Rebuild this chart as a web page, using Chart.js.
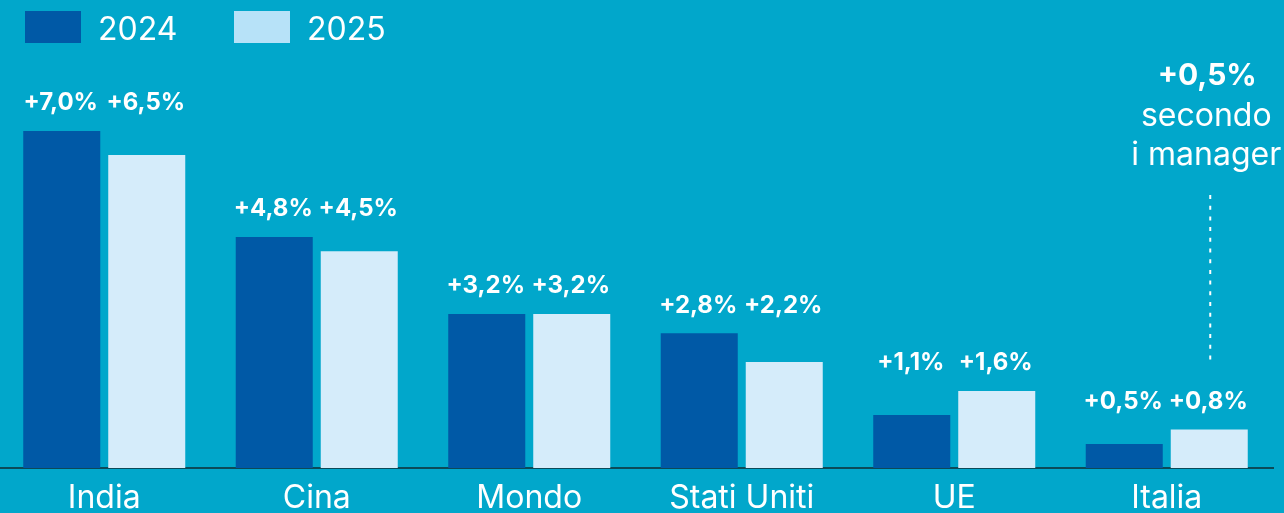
<!DOCTYPE html>
<html>
<head>
<meta charset="utf-8">
<script src="https://cdn.jsdelivr.net/npm/chart.js@4.4.1/dist/chart.umd.min.js"></script>
<style>
  html, body { margin: 0; padding: 0; background: #01a7cb; overflow: hidden; }
  #wrap { position: absolute; left: -2px; top: 0; width: 1286px; height: 513px; }
</style>
</head>
<body>
<div id="wrap"><canvas id="myChart"></canvas></div>
<script>
// data
let countries = ['India', 'Cina', 'Mondo', 'Stati Uniti', 'UE', 'Italia']
let growth2024 = [7.0, 4.8, 3.2, 2.8, 1.1, 0.5]
let growth2025 = [6.5, 4.5, 3.2, 2.2, 1.6, 0.8]
let seriesNames = ['2024', '2025']
let managerNote = ['+0,5%', 'secondo', 'i manager']

let barColors = ['#0059a6', '#d5ecfa']
let legendColors = ['#0059a6', '#b7e2f8']
let fontFamily = 'Inter, "Noto Sans", sans-serif'

function formatPct(v) {
    return '+' + v.toFixed(1).replace('.', ',') + '%'
}

// legend boxes at the top left
let legendPlugin = {
    id: 'topLegend',
    afterDraw: function(chart) {
        let ctx = chart.ctx
        ctx.save()
        ctx.font = '32px ' + fontFamily
        ctx.textBaseline = 'alphabetic'
        ctx.textAlign = 'left'
        let x = 27
        chart.data.datasets.forEach(function(ds, i) {
            ctx.fillStyle = legendColors[i]
            ctx.fillRect(x, 11, 56, 32)
            ctx.fillStyle = '#ffffff'
            ctx.fillText(ds.label, x + 73, 40)
            x += 209
        })
        ctx.restore()
    }
}

// value labels, both labels of a group on one line above the taller bar
let valueLabels = {
    id: 'valueLabels',
    afterDatasetsDraw: function(chart) {
        let ctx = chart.ctx
        let metas = chart.data.datasets.map(function(ds, i) {
            return chart.getDatasetMeta(i)
        })
        ctx.save()
        ctx.font = 'bold 24px ' + fontFamily
        ctx.fillStyle = '#ffffff'
        ctx.textAlign = 'center'
        ctx.textBaseline = 'alphabetic'
        countries.forEach(function(c, j) {
            let top = Math.min.apply(null, metas.map(function(m) { return m.data[j].y }))
            chart.data.datasets.forEach(function(ds, i) {
                ctx.fillText(formatPct(ds.data[j]), metas[i].data[j].x - 1, top - 20.5)
            })
        })
        ctx.restore()
    }
}

// "+0,5% secondo i manager" note over Italia
let notePlugIn = {
    id: 'managerNote',
    afterDraw: function(chart) {
        let ctx = chart.ctx
        let bar = chart.getDatasetMeta(1).data[countries.length - 1]
        let x = bar.x
        ctx.save()
        ctx.fillStyle = '#ffffff'
        ctx.textAlign = 'center'
        ctx.textBaseline = 'alphabetic'
        ctx.font = 'bold 30px ' + fontFamily
        ctx.fillText(managerNote[0], x - 2, 85)
        ctx.font = '32px ' + fontFamily
        ctx.fillText(managerNote[1], x - 3, 126)
        ctx.fillText(managerNote[2], x - 3, 165)

        ctx.strokeStyle = '#ffffff'
        ctx.lineWidth = 2
        ctx.setLineDash([4, 6.7])
        ctx.beginPath()
        ctx.moveTo(x + 1, 195)
        ctx.lineTo(x + 1, bar.y - 65)
        ctx.stroke()
        ctx.restore()
    }
}

let ctx = document.getElementById('myChart').getContext('2d')
let chart = new Chart(ctx, {
    type: 'bar',
    data: {
        labels: countries,
        datasets: [{
            label: seriesNames[0],
            backgroundColor: barColors[0],
            data: growth2024
        }, {
            label: seriesNames[1],
            backgroundColor: barColors[1],
            data: growth2025
        }]
    },
    options: {
        responsive: true,
        maintainAspectRatio: false,
        animation: false,
        layout: { padding: { left: 0, right: 11, top: 0, bottom: 0 } },
        datasets: {
            bar: { categoryPercentage: 0.8, barPercentage: 0.906 }
        },
        plugins: {
            legend: { display: false },
            tooltip: { enabled: false }
        },
        scales: {
            x: {
                grid: { display: false },
                border: { display: true, color: '#0c4a58', width: 2 },
                ticks: {
                    color: '#ffffff',
                    padding: 3,
                    font: { family: fontFamily, size: 32 }
                },
                afterFit: function(scale) {
                    scale.height = 45
                }
            },
            y: {
                display: false,
                min: 0,
                max: 9.72
            }
        }
    },
    plugins: [legendPlugin, valueLabels, notePlugIn]
})
</script>
</body>
</html>
